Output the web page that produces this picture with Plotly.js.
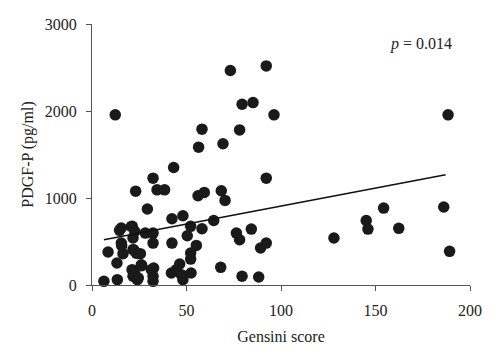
<!DOCTYPE html>
<html>
<head>
<meta charset="utf-8">
<script src="https://cdn.plot.ly/plotly-3.0.1.min.js"></script>
<style>html,body{margin:0;padding:0;background:#fff;}#chart{width:500px;height:357px;}</style>
</head>
<body>
<div id="chart"></div>
<script>
// Gensini score (x) and PDGF-P in pg/ml (y)
const gensini = [6.3, 8.5, 12.3, 13.2, 13.4, 14.6, 15.5, 15.7, 16.4, 21.3,
  21.7, 22.0, 21.2, 21.7, 23.1, 22.6, 23.5, 25.6, 24.0, 26.3,
  28.2, 29.3, 32.3, 32.3, 32.3, 32.6, 32.3, 32.3, 34.4, 38.4,
  42.3, 42.3, 43.2, 42.0, 44.6, 46.4, 47.3, 48.1, 48.1, 50.4,
  52.2, 52.2, 52.2, 52.4, 55.2, 56.1, 56.4, 58.2, 58.2, 59.4,
  64.4, 68.1, 68.4, 69.3, 70.4, 73.2, 76.4, 78.1, 78.1, 79.4,
  79.4, 84.3, 85.2, 88.2, 89.2, 92.2, 92.2, 92.2, 96.3, 128.0,
  145.1, 146.0, 154.3, 162.3, 186.1, 188.4, 189.2,
  20.8, 15.5, 21.7, 23.5, 26.1, 31.4, 22.5, 24.5];
const pdgf = [42, 379, 1956, 253, 61, 628, 655, 455, 360, 674,
  540, 406, 176, 100, 1079, 616, 367, 360, 61, 222,
  597, 873, 1228, 597, 482, 195, 100, 42, 1094, 1094,
  762, 482, 1351, 138, 176, 241, 119, 61, 796, 566,
  674, 367, 298, 138, 455, 1026, 1584, 1791, 647, 1064,
  742, 203, 1083, 1623, 972, 2465, 597, 520, 1783, 2078,
  100, 643, 2097, 92, 425, 482, 2518, 1228, 1956, 540,
  742, 643, 884, 651, 896, 1956, 387,
  673, 483, 406, 368, 233, 176, 140, 80];
// fitted regression line end points
const fitX = [6.3, 187.1];
const fitY = [520, 1267];
const xTicks = [0, 50, 100, 150, 200];
const yTicks = [0, 1000, 2000, 3000];

const font = "'Liberation Serif', 'Times New Roman', serif";

const traces = [
  {
    x: gensini, y: pdgf, type: 'scatter', mode: 'markers',
    marker: {size: 11.5, color: '#1a1a1a'},
    cliponaxis: false, hoverinfo: 'skip'
  },
  {
    x: fitX, y: fitY, type: 'scatter', mode: 'lines',
    line: {color: '#111', width: 1.6}, hoverinfo: 'skip'
  }
];

const layout = {
  width: 500, height: 357,
  margin: {l: 92, r: 30, t: 24, b: 72},
  paper_bgcolor: '#fff', plot_bgcolor: '#fff',
  showlegend: false,
  font: {family: font, size: 16, color: '#222'},
  xaxis: {
    range: [0, 200], tickvals: xTicks, ticktext: xTicks.map(String),
    showgrid: false, zeroline: false, showline: true, linecolor: '#555', linewidth: 1,
    ticks: 'outside', ticklen: 5, tickcolor: '#555', ticklabelstandoff: 6,
    tickfont: {family: font, size: 16, color: '#222'},
    title: {text: 'Gensini score', font: {family: font, size: 16, color: '#222'}, standoff: 12}
  },
  yaxis: {
    range: [0, 3000], tickvals: yTicks, ticktext: yTicks.map(String),
    showgrid: false, zeroline: false, showline: true, linecolor: '#555', linewidth: 1,
    ticks: 'outside', ticklen: 5, tickcolor: '#555', ticklabelstandoff: 6,
    tickfont: {family: font, size: 16, color: '#222'},
    title: {text: 'PDGF-P (pg/ml)', font: {family: font, size: 16, color: '#222'}, standoff: 7}
  },
  annotations: [{
    xref: 'paper', yref: 'paper', x: 0.958, y: 0.923,
    xanchor: 'right', yanchor: 'middle', showarrow: false,
    text: '<i>p</i> = 0.014', font: {family: font, size: 16, color: '#222'}
  }]
};

Plotly.newPlot('chart', traces, layout, {staticPlot: true, displayModeBar: false});
</script>
</body>
</html>
